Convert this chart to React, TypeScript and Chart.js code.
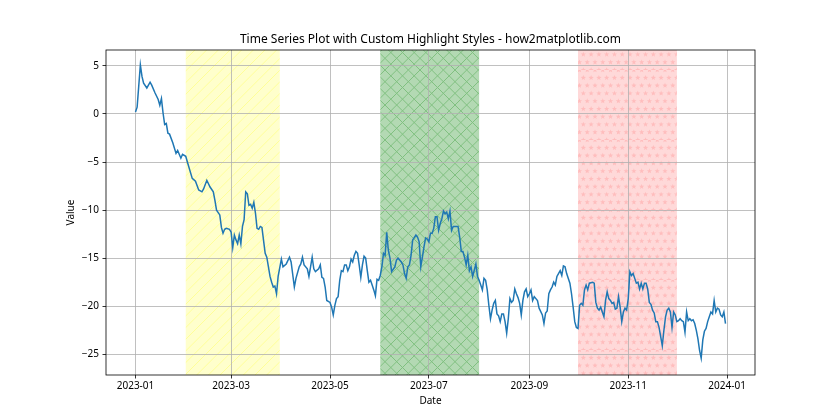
import React, { useEffect, useRef } from 'react';
import { Chart, registerables } from 'chart.js';

Chart.register(...registerables);

const START_DATE = '2023-01-01';

// day offset from 2023-01-01
const dayOffsets = [
  0, 1, 3, 4, 5, 7, 9, 10, 12, 14, 15, 16, 17, 18, 19, 20, 21, 23, 25, 26, 28, 29, 31, 32, 35, 37, 39, 41, 42, 44, 46, 48,
  49, 50, 52, 53, 54, 55, 56, 58, 59, 60, 61, 62, 63, 64, 65, 66, 67, 68, 69, 70, 71, 72, 73, 74, 75, 76, 77, 78, 80, 81,
  83, 84, 85, 86, 87, 88, 90, 91, 93, 95, 96, 98, 99, 101, 102, 103, 104, 106, 107, 108, 109, 110, 111, 113, 114, 115, 116,
  117, 118, 120, 121, 122, 123, 124, 125, 126, 127, 128, 129, 130, 131, 132, 133, 134, 135, 136, 137, 138, 139, 140, 141,
  142, 143, 144, 145, 146, 147, 148, 149, 150, 151, 152, 153, 154, 155, 156, 157, 158, 160, 161, 162, 164, 165, 166, 167,
  168, 169, 170, 171, 173, 174, 175, 176, 177, 178, 179, 180, 181, 182, 183, 184, 185, 186, 187, 188, 189, 190, 191, 192,
  193, 194, 195, 196, 198, 199, 200, 201, 202, 203, 204, 205, 206, 207, 208, 210, 211, 212, 213, 214, 215, 216, 217, 218,
  219, 220, 221, 222, 223, 224, 225, 226, 227, 228, 229, 230, 231, 232, 233, 234, 235, 236, 237, 238, 239, 240, 241, 242,
  243, 244, 245, 246, 248, 249, 251, 252, 253, 254, 255, 256, 257, 258, 259, 260, 262, 263, 264, 265, 266, 268, 269, 270,
  271, 272, 273, 274, 275, 276, 277, 278, 279, 280, 282, 283, 284, 285, 286, 287, 288, 289, 290, 291, 292, 293, 294, 295,
  296, 297, 298, 299, 300, 301, 302, 303, 304, 305, 306, 307, 308, 309, 310, 311, 312, 313, 314, 315, 316, 317, 318, 319,
  320, 321, 322, 323, 325, 326, 327, 328, 329, 330, 331, 332, 333, 334, 335, 336, 337, 338, 339, 340, 341, 342, 343, 344,
  345, 346, 347, 348, 349, 350, 351, 352, 353, 354, 355, 356, 357, 358, 359, 360, 361, 362, 363, 364,
];

const values = [
  0.2, 0.7, 5.1, 3.9, 3.2, 2.7, 3.3, 3.0, 2.2, 1.5, 0.9, 1.6, 0.1, -1.1, -1.0, -2.0, -2.1, -3.0, -4.1, -3.8, -4.6, -4.2, -4.4, -5.0, -6.7, -7.0, -7.9, -8.1, -7.8, -6.9, -7.6, -8.1,
  -9.0, -10.0, -10.5, -11.8, -12.4, -12.0, -11.9, -12.0, -12.3, -13.9, -12.6, -13.1, -13.5, -12.6, -13.5, -11.7, -11.0, -8.1, -8.3, -9.5, -9.4, -9.8, -9.2, -10.3, -11.9, -12.0, -11.7, -11.8, -14.5, -14.9,
  -16.9, -17.5, -18.0, -17.9, -18.7, -16.9, -15.1, -15.9, -15.6, -14.9, -15.4, -18.0, -17.1, -15.9, -15.6, -14.9, -15.7, -16.1, -16.9, -15.9, -14.9, -16.1, -16.4, -16.1, -15.7, -17.0, -17.1,
  -18.0, -19.4, -19.6, -20.1, -20.9, -19.9, -19.2, -19.0, -17.3, -16.3, -16.4, -15.7, -15.7, -16.3, -15.9, -15.1, -15.4, -14.7, -14.3, -14.5, -15.7, -17.0, -15.7, -14.8,
  -15.0, -16.3, -17.5, -17.3, -17.8, -18.3, -18.9, -17.2, -17.3, -16.8, -15.9, -14.5, -14.7, -12.3, -14.2, -15.0, -16.4, -15.9, -15.2, -15.0, -15.4, -15.7, -16.6, -17.1,
  -15.9, -15.7, -14.7, -13.1, -12.6, -12.8, -13.3, -15.9, -14.9, -13.8, -12.9, -13.0, -13.3, -12.4, -12.4, -11.9, -10.7, -10.7, -12.1, -11.4, -10.9, -10.1, -10.4, -10.2,
  -10.9, -10.1, -12.1, -11.7, -11.7, -11.7, -12.8, -14.3, -14.3, -14.9, -15.7, -14.7, -16.3, -15.9, -16.9, -15.6, -16.9, -17.3, -17.8, -18.3, -17.1, -17.3, -18.3, -19.9,
  -21.3, -20.4, -19.7, -19.4, -20.8, -21.0, -21.6, -20.8, -20.8, -21.6, -22.8, -21.3, -19.2, -19.6, -19.4, -18.2, -18.7, -19.1, -19.7, -20.9, -19.4, -18.5, -18.2, -19.0,
  -18.7, -18.3, -19.4, -19.0, -19.4, -20.2, -20.9, -21.8, -20.7, -20.5, -18.7, -18.3, -18.0, -17.5, -17.8, -16.9, -16.3, -16.8, -15.8, -15.9, -16.6, -17.6, -18.7, -20.1,
  -21.6, -22.2, -22.3, -19.9, -19.7, -19.9, -18.3, -17.8, -18.3, -17.6, -17.5, -17.6, -19.6, -20.2, -20.4, -20.1, -20.6, -21.1, -19.4, -18.5, -19.2, -19.4, -19.7, -19.6,
  -20.3, -20.2, -19.0, -20.1, -21.6, -20.6, -20.2, -20.4, -19.2, -16.4, -16.8, -16.6, -17.1, -17.6, -17.5, -18.2, -17.6, -18.2, -17.6, -17.6, -18.2, -19.6, -19.8, -20.4,
  -20.7, -21.6, -21.6, -22.2, -24.1, -22.5, -21.1, -20.4, -20.2, -20.6, -22.2, -20.6, -20.9, -21.6, -21.5, -21.3, -21.5, -21.6, -22.7, -20.6, -21.5, -21.3, -21.5, -21.4,
  -21.8, -22.5, -23.4, -24.6, -25.4, -23.5, -22.6, -22.3, -21.6, -21.1, -20.6, -20.8, -19.4, -20.6, -20.2, -20.3, -20.9, -21.1, -20.6, -21.8,
];

const xTickDates = ['2023-01-01', '2023-03-01', '2023-05-01', '2023-07-01', '2023-09-01', '2023-11-01', '2024-01-01'];
const xTickLabels = ['2023-01', '2023-03', '2023-05', '2023-07', '2023-09', '2023-11', '2024-01'];
const yTicks = [-25, -20, -15, -10, -5, 0, 5];

const spanStarts = ['2023-02-01', '2023-06-01', '2023-10-01'];
const spanEnds = ['2023-03-31', '2023-08-01', '2023-12-01'];
const spanKinds = ['slash', 'cross', 'star'];

const TITLE = 'Time Series Plot with Custom Highlight Styles - how2matplotlib.com';
const X_LABEL = 'Date';
const Y_LABEL = 'Value';
const FONT = "'Noto Sans', 'DejaVu Sans', sans-serif";

const toDay = (s: string) =>
  (Date.parse(s + 'T00:00:00Z') - Date.parse(START_DATE + 'T00:00:00Z')) / 86400000;

function makePattern(ctx: CanvasRenderingContext2D, kind: string): CanvasPattern | string {
  const S = 70;
  const c = document.createElement('canvas');
  c.width = S;
  c.height = S;
  const g = c.getContext('2d');
  if (!g) return '#fff';
  if (kind === 'slash' || kind === 'cross') {
    const n = 6;
    const step = S / n;
    g.fillStyle = kind === 'slash' ? '#ffffcc' : '#b3d9b3';
    g.fillRect(0, 0, S, S);
    g.strokeStyle = kind === 'slash' ? '#ffff99' : '#80c080';
    g.lineWidth = 1;
    for (let k = -n - 1; k <= n + 1; k++) {
      const x0 = k * step;
      g.beginPath();
      g.moveTo(x0, S);
      g.lineTo(x0 + S, 0);
      g.stroke();
      if (kind === 'cross') {
        g.beginPath();
        g.moveTo(x0, 0);
        g.lineTo(x0 + S, S);
        g.stroke();
      }
    }
  } else {
    const n = 9;
    const step = S / n;
    g.fillStyle = '#ffd9d9';
    g.fillRect(0, 0, S, S);
    g.fillStyle = '#ffbdbd';
    const R = step / 2.8;
    const r = R * 0.42;
    const star = (cx: number, cy: number) => {
      g.beginPath();
      for (let i = 0; i < 10; i++) {
        const rad = i % 2 === 0 ? R : r;
        const a = -Math.PI / 2 + (i * Math.PI) / 5;
        const px = cx + rad * Math.cos(a);
        const py = cy + rad * Math.sin(a);
        if (i === 0) g.moveTo(px, py);
        else g.lineTo(px, py);
      }
      g.closePath();
      g.fill();
    };
    for (let row = 0; row <= n; row++) {
      const cy = S - row * step;
      if (row % 2 === 0) {
        for (let col = 0; col <= n; col++) star(col * step, cy);
      } else {
        for (let col = 0; col < n; col++) star((col + 0.5) * step, cy);
      }
    }
  }
  return ctx.createPattern(c, 'repeat') || '#fff';
}

const spanPlugin = {
  id: 'spans',
  beforeDraw(chart: any) {
    const { ctx, chartArea, scales } = chart;
    const xs = scales.x;
    ctx.save();
    ctx.beginPath();
    ctx.rect(chartArea.left, chartArea.top, chartArea.right - chartArea.left, chartArea.bottom - chartArea.top);
    ctx.clip();
    spanStarts.forEach((s, i) => {
      const x0 = xs.getPixelForValue(toDay(s));
      const x1 = xs.getPixelForValue(toDay(spanEnds[i]));
      ctx.fillStyle = makePattern(ctx, spanKinds[i]);
      ctx.fillRect(x0, chartArea.top, x1 - x0, chartArea.bottom - chartArea.top);
    });
    ctx.restore();
  },
  afterDraw(chart: any) {
    const { ctx, chartArea } = chart;
    ctx.save();
    ctx.strokeStyle = '#000';
    ctx.lineWidth = 0.8;
    ctx.strokeRect(chartArea.left, chartArea.top, chartArea.right - chartArea.left, chartArea.bottom - chartArea.top);
    ctx.restore();
  },
};

export default function App() {
  const ref = useRef<HTMLCanvasElement | null>(null);
  useEffect(() => {
    if (!ref.current) return;
    const data = dayOffsets.map((d, i) => ({ x: d, y: values[i] }));
    const chart = new Chart(ref.current, {
      type: 'line',
      data: {
        datasets: [
          {
            data,
            borderColor: '#1f77b4',
            borderWidth: 1.5,
            pointRadius: 0,
            tension: 0,
            fill: false,
          },
        ],
      },
      options: {
        animation: false,
        responsive: false,
        devicePixelRatio: 1,
        layout: { padding: { left: 0, right: 85, top: 0, bottom: 0 } },
        plugins: {
          legend: { display: false },
          tooltip: { enabled: false },
          title: {
            display: true,
            text: TITLE,
            fullSize: false,
            color: '#000',
            font: { family: FONT, size: 12, weight: 'normal' },
            padding: { top: 32.6, bottom: 3 },
          },
        },
        scales: {
          x: {
            type: 'linear',
            min: -18.2,
            max: 382.2,
            afterBuildTicks: (scale: any) => {
              scale.ticks = xTickDates.map((d) => ({ value: toDay(d) }));
            },
            afterFit: (scale: any) => {
              scale.height = 45;
            },
            ticks: {
              autoSkip: false,
              maxRotation: 0,
              padding: 2,
              color: '#000',
              font: { family: FONT, size: 10 },
              callback: (v: any) => {
                const idx = xTickDates.findIndex((d) => Math.abs(toDay(d) - Number(v)) < 0.01);
                return idx >= 0 ? xTickLabels[idx] : '';
              },
            },
            grid: { color: '#b0b0b0', lineWidth: 0.8, tickLength: 3.5, tickColor: '#000', drawTicks: true },
            border: { display: false },
            title: {
              display: true,
              text: X_LABEL,
              color: '#000',
              font: { family: FONT, size: 10 },
              padding: { top: 0, bottom: 13 },
            },
          },
          y: {
            type: 'linear',
            min: -27.15,
            max: 6.65,
            afterBuildTicks: (scale: any) => {
              scale.ticks = yTicks.map((v) => ({ value: v }));
            },
            afterFit: (scale: any) => {
              scale.width = 106;
            },
            ticks: {
              padding: 3.5,
              color: '#000',
              font: { family: FONT, size: 10 },
              callback: (v: any) => {
                const n = Number(v);
                return n < 0 ? '\u2212' + Math.abs(n) : String(n);
              },
            },
            grid: { color: '#b0b0b0', lineWidth: 0.8, tickLength: 3.5, tickColor: '#000', drawTicks: true },
            border: { display: false },
            title: {
              display: true,
              text: Y_LABEL,
              color: '#000',
              font: { family: FONT, size: 10 },
              padding: { top: 65, bottom: 0 },
            },
          },
        },
      },
      plugins: [spanPlugin],
    } as any);
    return () => chart.destroy();
  }, []);

  return (
    <div style={{ position: 'absolute', left: 0, top: 0, width: 840, height: 420, background: '#fff' }}>
      <canvas ref={ref} width={840} height={420} style={{ width: 840, height: 420, display: 'block' }} />
    </div>
  );
}
